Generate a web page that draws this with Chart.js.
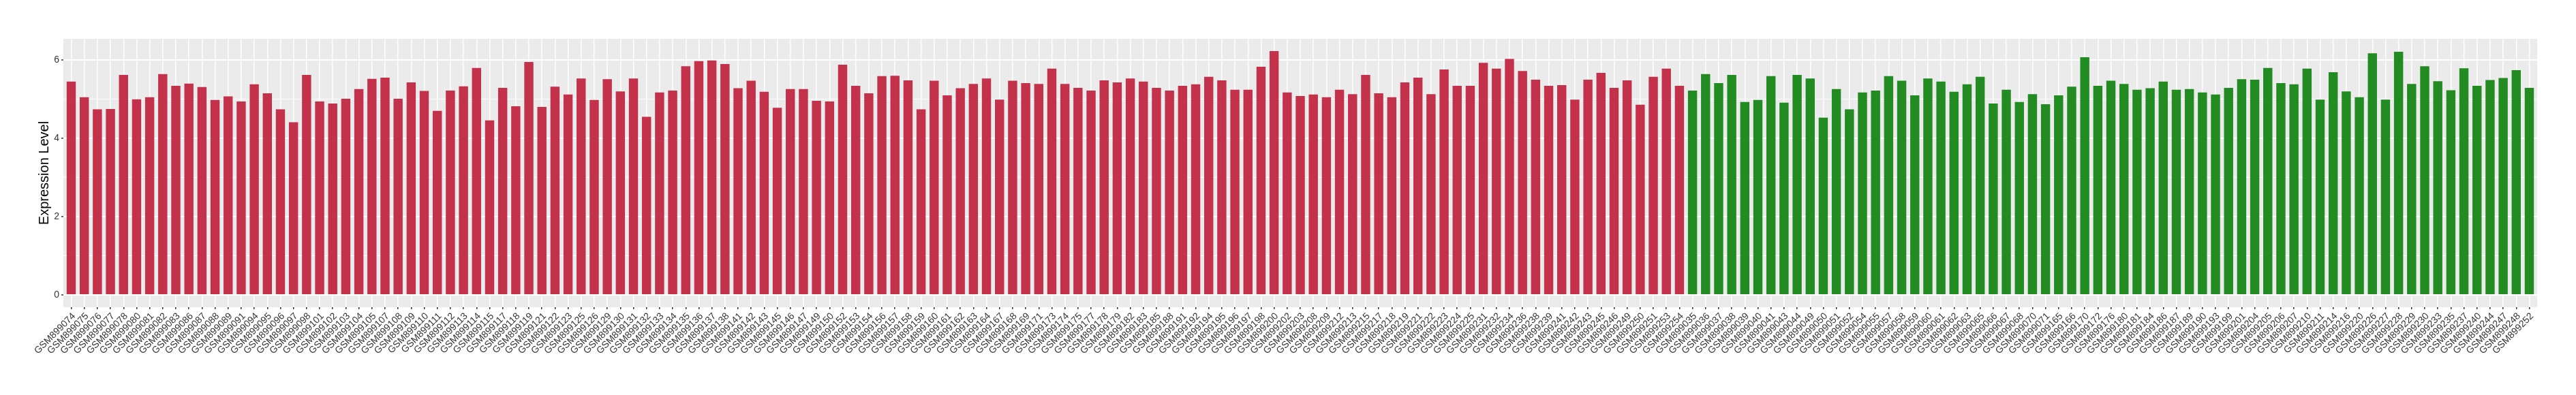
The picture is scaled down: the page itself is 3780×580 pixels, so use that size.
<!DOCTYPE html>
<html>
<head>
<meta charset="utf-8">
<script src="https://cdn.jsdelivr.net/npm/chart.js@4/dist/chart.umd.min.js"></script>
<style>
  html, body { margin: 0; padding: 0; background: #ffffff; }
  #wrap { width: 3780px; height: 580px; position: relative; }
</style>
</head>
<body>
<div id="wrap"><canvas id="c" width="3780" height="580"></canvas></div>
<script>
// ---- data ----
const redSamples = [
  "GSM899074","GSM899075","GSM899076","GSM899077","GSM899078","GSM899080","GSM899081","GSM899082","GSM899083","GSM899086",
  "GSM899087","GSM899088","GSM899089","GSM899091","GSM899094","GSM899095","GSM899096","GSM899097","GSM899098","GSM899101",
  "GSM899102","GSM899103","GSM899104","GSM899105","GSM899107","GSM899108","GSM899109","GSM899110","GSM899111","GSM899112",
  "GSM899113","GSM899114","GSM899115","GSM899117","GSM899118","GSM899119","GSM899121","GSM899122","GSM899123","GSM899125",
  "GSM899126","GSM899129","GSM899130","GSM899131","GSM899132","GSM899133","GSM899134","GSM899135","GSM899136","GSM899137",
  "GSM899138","GSM899141","GSM899142","GSM899143","GSM899145","GSM899146","GSM899147","GSM899149","GSM899150","GSM899152",
  "GSM899153","GSM899154","GSM899156","GSM899157","GSM899158","GSM899159","GSM899160","GSM899161","GSM899162","GSM899163",
  "GSM899164","GSM899167","GSM899168","GSM899169","GSM899171","GSM899173","GSM899174","GSM899175","GSM899177","GSM899178",
  "GSM899179","GSM899182","GSM899183","GSM899185","GSM899188","GSM899191","GSM899192","GSM899194","GSM899195","GSM899196",
  "GSM899197","GSM899198","GSM899200","GSM899202","GSM899203","GSM899208","GSM899209","GSM899212","GSM899213","GSM899215",
  "GSM899217","GSM899218","GSM899219","GSM899221","GSM899222","GSM899223","GSM899224","GSM899225","GSM899231","GSM899232",
  "GSM899234","GSM899236","GSM899238","GSM899239","GSM899241","GSM899242","GSM899243","GSM899245","GSM899246","GSM899249",
  "GSM899250","GSM899251","GSM899253","GSM899254"
];
const redValues = [
  5.45,5.05,4.74,4.75,5.62,5.00,5.05,5.64,5.34,5.40,
  5.31,4.98,5.07,4.94,5.38,5.15,4.74,4.41,5.62,4.94,
  4.89,5.01,5.26,5.52,5.55,5.01,5.43,5.21,4.70,5.22,
  5.33,5.80,4.46,5.29,4.82,5.95,4.80,5.32,5.12,5.53,
  4.98,5.51,5.20,5.53,4.55,5.17,5.22,5.84,5.97,5.99,
  5.90,5.28,5.47,5.19,4.78,5.26,5.26,4.96,4.94,5.88,
  5.34,5.15,5.59,5.60,5.48,4.74,5.47,5.10,5.28,5.39,
  5.53,4.99,5.47,5.41,5.39,5.78,5.39,5.29,5.22,5.48,
  5.43,5.53,5.45,5.29,5.22,5.34,5.38,5.57,5.48,5.24,
  5.24,5.83,6.23,5.17,5.08,5.12,5.05,5.24,5.13,5.62,
  5.15,5.05,5.43,5.55,5.13,5.76,5.34,5.34,5.93,5.78,
  6.03,5.72,5.50,5.34,5.36,4.99,5.50,5.67,5.29,5.48,
  4.86,5.57,5.78,5.34
];
const greenSamples = [
  "GSM899035","GSM899036","GSM899037","GSM899038","GSM899039","GSM899040","GSM899041","GSM899043","GSM899044","GSM899049",
  "GSM899050","GSM899051","GSM899052","GSM899054","GSM899055","GSM899057","GSM899058","GSM899059","GSM899060","GSM899061",
  "GSM899062","GSM899063","GSM899065","GSM899066","GSM899067","GSM899068","GSM899070","GSM899071","GSM899165","GSM899166",
  "GSM899170","GSM899172","GSM899176","GSM899180","GSM899181","GSM899184","GSM899186","GSM899187","GSM899189","GSM899190",
  "GSM899193","GSM899199","GSM899201","GSM899204","GSM899205","GSM899206","GSM899207","GSM899210","GSM899211","GSM899214",
  "GSM899216","GSM899220","GSM899226","GSM899227","GSM899228","GSM899229","GSM899230","GSM899233","GSM899235","GSM899237",
  "GSM899240","GSM899244","GSM899247","GSM899248","GSM899252"
];
const greenValues = [
  5.22,5.64,5.41,5.62,4.93,4.98,5.59,4.91,5.62,5.53,
  4.53,5.26,4.74,5.17,5.22,5.59,5.47,5.10,5.53,5.45,
  5.19,5.38,5.57,4.89,5.24,4.93,5.13,4.87,5.10,5.32,
  6.07,5.34,5.47,5.39,5.24,5.28,5.45,5.24,5.26,5.17,
  5.12,5.29,5.51,5.50,5.80,5.41,5.38,5.78,4.99,5.69,
  5.20,5.05,6.17,4.99,6.21,5.39,5.84,5.46,5.23,5.79,
  5.34,5.49,5.54,5.74,5.29
];
const yTickLabels = [0, 2, 4, 6];
const yTitle = "Expression Level";

// ---- styling ----
const RED = "#C3314A";
const GREEN = "#228B22";
const FONT = "'Liberation Sans', Arial, Helvetica, sans-serif";
const TEXT = "#333333";

const labels = redSamples.concat(greenSamples);
const values = redValues.concat(greenValues);
const barColors = redSamples.map(() => RED).concat(greenSamples.map(() => GREEN));
const points = values.map((v, i) => ({ x: i, y: v }));

// ggplot-like expansion: 5% of range on y, 0.6 units on the discrete x
const yMaxData = Math.max(...values);
const yPad = (yMaxData - 0) * 0.05;

const panelBg = {
  id: "panelBg",
  beforeDraw(chart) {
    const { ctx, chartArea: a } = chart;
    ctx.save();
    ctx.fillStyle = "#EBEBEB";
    ctx.fillRect(a.left, a.top, a.right - a.left, a.bottom - a.top);
    ctx.restore();
  }
};

const isMajor = (v) => yTickLabels.includes(Math.round(v * 1000) / 1000);

new Chart(document.getElementById("c"), {
  type: "bar",
  data: {
    datasets: [{
      data: points,
      backgroundColor: barColors,
      borderWidth: 0,
      barPercentage: 0.7,
      categoryPercentage: 1.0
    }]
  },
  options: {
    responsive: false,
    animation: false,
    devicePixelRatio: 1,
    layout: { padding: { left: 0, right: 57, top: 57, bottom: 0 } },
    plugins: { legend: { display: false }, tooltip: { enabled: false } },
    scales: {
      x: {
        type: "linear",
        min: -0.6,
        max: labels.length - 1 + 0.6,
        offset: false,
        border: { display: false },
        grid: {
          offset: false,
          color: "#FFFFFF",
          lineWidth: 1.5,
          drawTicks: true,
          tickLength: 3,
          tickColor: "#333333",
          tickWidth: 1.5
        },
        ticks: {
          stepSize: 1,
          includeBounds: false,
          autoSkip: false,
          maxRotation: 45,
          minRotation: 45,
          padding: 2,
          labelOffset: 4,
          color: TEXT,
          font: { family: FONT, size: 14 },
          callback: (v) => (Number.isInteger(v) && labels[v] !== undefined ? labels[v] : "")
        },
        afterFit: (s) => { s.height = 129; }
      },
      y: {
        type: "linear",
        min: -yPad,
        max: yMaxData + yPad,
        border: { display: false },
        grid: {
          color: "#FFFFFF",
          lineWidth: (ctx) => (ctx.tick && isMajor(ctx.tick.value) ? 2 : 1),
          drawTicks: true,
          tickLength: 3,
          tickColor: (ctx) => (ctx.tick && isMajor(ctx.tick.value) ? "#333333" : "rgba(0,0,0,0)"),
          tickWidth: 1.5
        },
        ticks: {
          stepSize: 1,
          includeBounds: false,
          padding: 3,
          color: TEXT,
          font: { family: FONT, size: 14 },
          callback: (v) => (isMajor(v) ? String(Math.round(v)) : "")
        },
        title: {
          display: true,
          text: yTitle,
          color: "#000000",
          font: { family: FONT, size: 20 },
          padding: { top: 53, bottom: 0 }
        },
        afterFit: (s) => { s.width = 93; }
      }
    }
  },
  plugins: [panelBg]
});
</script>
</body>
</html>
